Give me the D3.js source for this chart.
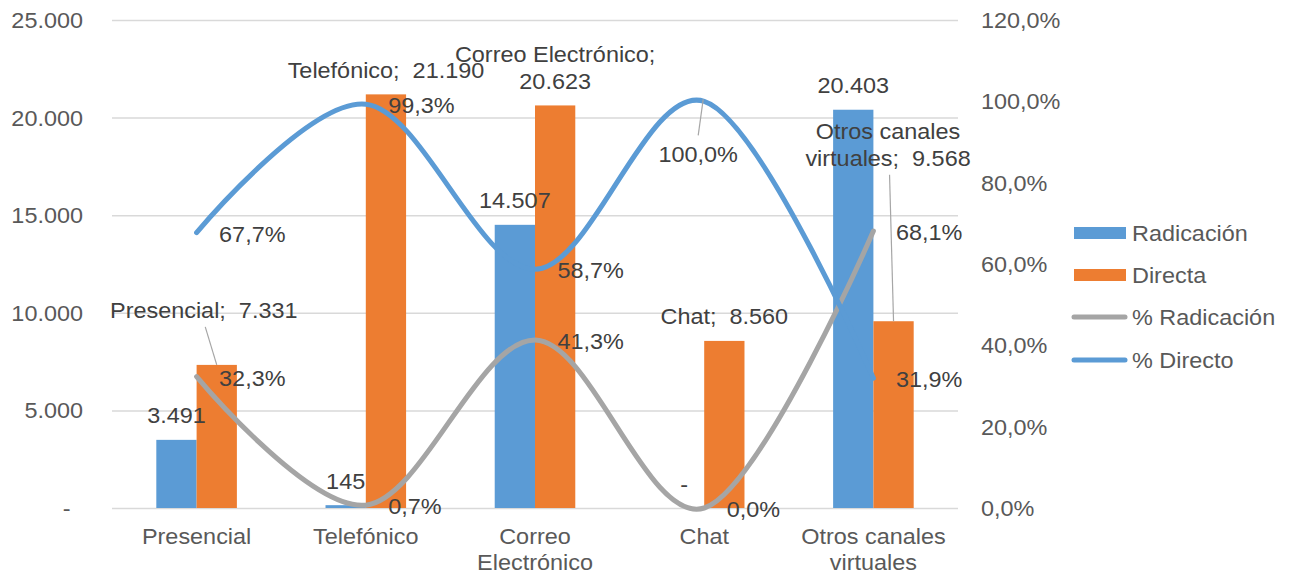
<!DOCTYPE html>
<html><head><meta charset="utf-8">
<script src="https://cdn.jsdelivr.net/npm/d3@7"></script>
<style>body{margin:0;background:#fff}svg{display:block;font-family:"Liberation Sans",Arial,sans-serif}</style>
</head><body><svg id="c" width="1290" height="575"></svg>
<script>
// ---- data ----
const categories = ["Presencial", "Telefónico", "Correo Electrónico", "Chat", "Otros canales virtuales"];
const seriesNames = ["Radicación", "Directa"];
const radicacion = [3491, 145, 14507, 0, 20403];
const directa = [7331, 21190, 20623, 8560, 9568];
const pctRadicacion = [32.3, 0.7, 41.3, 0.0, 68.1];
const pctDirecto = [67.7, 99.3, 58.7, 100.0, 31.9];
const leftTicks = [0, 5000, 10000, 15000, 20000, 25000];
const rightTicks = [0, 20, 40, 60, 80, 100, 120];
const legendLabels = ["Radicación", "Directa", "% Radicación", "% Directo"];

// ---- style / layout ----
const FS = 21.5, SX = 1.09;
const C = {blue: "#5B9BD5", orange: "#ED7D31", gray: "#A5A5A5", grid: "#D9D9D9", tick: "#595959", label: "#404040", leader: "#A6A6A6"};
const svg = d3.select("#c");
const X0 = 112, X1 = 958, Y0 = 508, Y1 = 20;

const x0 = d3.scaleBand().domain(categories).range([X0, X1]);
const x1 = d3.scaleBand().domain(seriesNames).range([0, x0.bandwidth()]).paddingOuter(1.1);
const yL = d3.scaleLinear().domain([0, 25000]).range([Y0, Y1]);
const yR = d3.scaleLinear().domain([0, 120]).range([Y0, Y1]);
const fmtN = v => v === 0 ? "-" : d3.format(",")(v).replace(/,/g, ".");
const fmtP = v => d3.format(".1f")(v).replace(".", ",") + "%";
const cx = c => x0(c) + x0.bandwidth() / 2;

function T(g, x, y, s, anchor = "start", fill = C.label) {
  return g.append("text").attr("transform", `translate(${x},${y}) scale(${SX},1)`)
    .attr("text-anchor", anchor).attr("font-size", FS).attr("fill", fill)
    .style("white-space", "pre").text(s);
}
const meas = svg.append("text").attr("font-size", FS).style("white-space", "pre").attr("opacity", 0);
function width(s) { meas.text(s); return meas.node().getComputedTextLength() * SX; }
function wrap(words, maxW) {
  const lines = []; let cur = "";
  words.forEach(w => {
    const cand = cur ? cur + " " + w : w.trimStart();
    if (cur && width(cand) > maxW) { lines.push(cur); cur = w.trimStart(); } else cur = cand;
  });
  if (cur) lines.push(cur);
  return lines;
}

// ---- gridlines ----
const grid = svg.append("g").attr("transform", `translate(${X0},0)`)
  .call(d3.axisLeft(yL).tickValues(leftTicks).tickSize(-(X1 - X0)).tickFormat(""));
grid.select(".domain").remove();
grid.selectAll("line").attr("stroke", C.grid).attr("stroke-width", 1.5);

// ---- left axis ----
const la = svg.append("g").attr("transform", "translate(83,0)")
  .call(d3.axisLeft(yL).tickValues(leftTicks).tickSize(0).tickPadding(0).tickFormat(fmtN));
la.select(".domain").remove();
la.selectAll("text").each(function (d) {
  const t = d3.select(this);
  const x = d === 0 ? -12.5 : 0;
  t.attr("x", null).attr("dy", "0.35em").attr("transform", `translate(${x},0) scale(${SX},1)`)
    .attr("font-size", FS).attr("fill", C.tick).attr("font-family", null);
});

// ---- right axis ----
const ra = svg.append("g").attr("transform", "translate(981,0)")
  .call(d3.axisRight(yR).tickValues(rightTicks).tickSize(0).tickPadding(0).tickFormat(fmtP));
ra.select(".domain").remove();
ra.selectAll("text").attr("x", null).attr("dy", "0.35em").attr("transform", `scale(${SX},1)`)
  .attr("font-size", FS).attr("fill", C.tick).attr("font-family", null);

// ---- category axis labels ----
const cat = svg.append("g");
categories.forEach(c => {
  wrap(c.split(" "), 160).forEach((ln, i) => T(cat, cx(c), 544 + i * 26, ln, "middle", C.tick));
});

// ---- bars ----
const bars = svg.append("g");
[radicacion, directa].forEach((vals, si) => {
  bars.selectAll(null).data(vals).join("rect")
    .attr("x", (d, i) => x0(categories[i]) + x1(seriesNames[si]))
    .attr("width", x1.bandwidth())
    .attr("y", d => yL(d)).attr("height", d => Y0 - yL(d))
    .attr("fill", si === 0 ? C.blue : C.orange);
});

// ---- lines ----
const line = d3.line().x((d, i) => cx(categories[i])).y(d => yR(d)).curve(d3.curveCardinal.tension(0));
[[pctRadicacion, C.gray], [pctDirecto, C.blue]].forEach(([vals, col]) => {
  svg.append("path").attr("d", line(vals)).attr("fill", "none").attr("stroke", col)
    .attr("stroke-width", 5).attr("stroke-linecap", "round").attr("stroke-linejoin", "round");
});

// ---- data labels ----
const lab = svg.append("g");
// Radicación bar labels
radicacion.forEach((v, i) => {
  const bx = x0(categories[i]) + x1("Radicación") + x1.bandwidth() / 2;
  T(lab, bx, yL(v) - 16.5, fmtN(v), "middle");
});
// Directa bar labels (category; value), some moved with leader lines
const dirMove = {0: [-13, -47], 4: [-5.5, -155.5]};
directa.forEach((v, i) => {
  const bx = x0(categories[i]) + x1("Directa") + x1.bandwidth() / 2;
  const words = (categories[i] + ";").split(" ").concat([" " + fmtN(v)]);
  const lines = wrap(words, 210);
  const [dx, dy] = dirMove[i] || [0, -16.5];
  const lx = bx + dx, base = yL(v) + dy;
  lines.forEach((ln, k) => T(lab, lx, base - (lines.length - 1 - k) * 27, ln, "middle"));
  if (dirMove[i]) {
    lab.append("line").attr("x1", lx + 1.5).attr("y1", base + 9).attr("x2", bx).attr("y2", yL(v))
      .attr("stroke", C.leader).attr("stroke-width", 1.2);
  }
});
// percentage labels
pctRadicacion.forEach((v, i) => T(lab, cx(categories[i]) + 22.5, yR(v) + 9, fmtP(v)));
pctDirecto.forEach((v, i) => {
  const px = cx(categories[i]), py = yR(v);
  if (i === 3) {
    T(lab, px - 6, py + 60.7, fmtP(v), "middle");
    lab.append("line").attr("x1", px - 6).attr("y1", py + 34).attr("x2", px - 1).attr("y2", py - 2)
      .attr("stroke", C.leader).attr("stroke-width", 1.2);
  } else T(lab, px + 22.5, py + 9, fmtP(v));
});

// ---- legend ----
const leg = svg.append("g");
const legY = [233, 275, 317, 360];
legendLabels.forEach((s, i) => {
  const y = legY[i];
  if (i < 2) leg.append("rect").attr("x", 1074).attr("y", y - 6).attr("width", 52).attr("height", 12)
    .attr("fill", i === 0 ? C.blue : C.orange);
  else leg.append("line").attr("x1", 1074).attr("x2", 1125).attr("y1", y).attr("y2", y)
    .attr("stroke", i === 2 ? C.gray : C.blue).attr("stroke-width", 5).attr("stroke-linecap", "round");
  T(leg, 1132, y + 7.7, s, "start", C.tick);
});
</script></body></html>
